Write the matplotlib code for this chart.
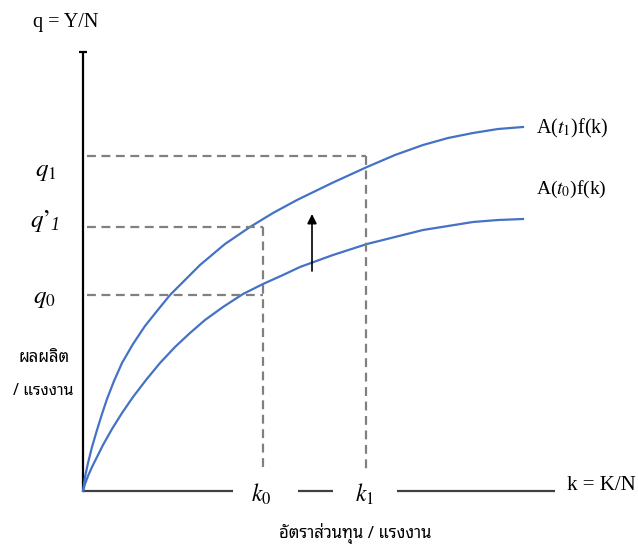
import matplotlib
matplotlib.use("Agg")
import matplotlib.pyplot as plt

plt.rcParams["mathtext.fontset"] = "stix"
THAI = ["Noto Sans Thai Looped", "DejaVu Sans"]
SERIF = ["Liberation Serif", "DejaVu Serif"]

# capital per worker (k) and output per worker (q)
k_new = [0, 2, 5, 9, 14, 19, 24, 31, 39, 50, 62, 74, 87, 102, 117, 142, 167,
         190, 214, 249, 284, 312, 340, 365, 390, 415, 440]
q_new = [0, 14, 28, 44, 61, 77, 92, 110, 128, 147, 165, 180, 196, 211, 226, 247, 264,
         278, 291, 308, 324, 336, 346, 353, 358, 362, 364]
k_old = [0, 2, 5, 9, 14, 20, 29, 39, 50, 63, 77, 92, 107, 122, 140, 160, 180,
         200, 217, 250, 284, 312, 340, 365, 390, 415, 440]
q_old = [0, 7, 15, 24, 34, 46, 62, 78, 94, 111, 128, 144, 158, 171, 184, 197, 207,
         216, 224, 236, 247, 254, 261, 265, 269, 271, 272]

k0, k1 = 180, 283
q0, q1p, q1 = 196, 264, 335

blue = "#4472C4"
grey = "#808080"

fig = plt.figure(figsize=(6.38, 5.45), dpi=100)
ax = fig.add_axes([0, 0, 1, 1])
ax.set_xlim(-83, 555)
ax.set_ylim(-54, 491)
ax.axis("off")

# axes
ax.plot([0, 0], [0, 439], color="black", lw=1.6, solid_capstyle="butt")
ax.plot([-4, 4], [439, 439], color="black", lw=1.6, solid_capstyle="butt")
for a, b in [(0, 150), (215, 250), (314, 472)]:
    ax.plot([a, b], [0, 0], color="#404040", lw=1.6, solid_capstyle="butt")

# production functions
ax.plot(k_new, q_new, color=blue, lw=1.6)
ax.plot(k_old, q_old, color=blue, lw=1.6)

# dashed guides
dash = dict(color=grey, lw=1.6, dashes=(4, 2.5))
ax.plot([4, k1], [q1, q1], **dash)
ax.plot([k1, k1], [q1, 21], **dash)
ax.plot([4, k0], [q1p, q1p], **dash)
ax.plot([k0, k0], [q1p, 21], **dash)
ax.plot([4, k0], [q0, q0], **dash)

# shift arrow
ax.annotate("", xy=(229, 277), xytext=(229, 220),
            arrowprops=dict(arrowstyle="-|>", color="black", lw=1.2,
                            mutation_scale=14, shrinkA=0, shrinkB=0))

# labels
ax.text(-50, 469, "q = Y/N", fontsize=14.5, family=SERIF, va="center")
ax.text(-37, 320, "$q_1$", fontsize=18, va="center", ha="center")
ax.text(-33, 270, "$q’$", fontsize=18, va="center", ha="right")
ax.text(-33, 265, "1", fontsize=13, va="center", ha="left", style="italic", family=SERIF)
ax.text(-39, 193, "$q_0$", fontsize=18, va="center", ha="center")
ax.text(-39, 133, "ผลผลิต", fontsize=12, family=THAI, weight="bold", ha="center", va="center")
ax.text(-40, 100, "/ แรงงาน", fontsize=11.5, family=THAI, weight="bold", ha="center", va="center")
ax.text(k0 - 2, -3, "$k_0$", fontsize=17, ha="center", va="center")
ax.text(k1 - 1, -3, "$k_1$", fontsize=17, ha="center", va="center")
ax.text(484, 6, "k = K/N", fontsize=15, family=SERIF, va="center")
ax.text(453, 363, "A($t_1$)f(k)", fontsize=14.5, family=SERIF, va="center")
ax.text(453, 302, "A($t_0$)f(k)", fontsize=14, family=SERIF, va="center")
ax.text(272, -42, "อัตราส่วนทุน / แรงงาน", fontsize=12, family=THAI, ha="center", va="center")

fig.savefig("out.png", dpi=100)
